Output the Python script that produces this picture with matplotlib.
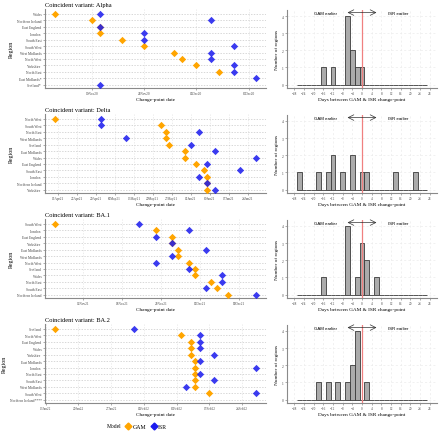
import numpy as np
import pandas as pd
import matplotlib
matplotlib.use("Agg")
import matplotlib.pyplot as plt
import matplotlib.dates as mdates
from matplotlib.lines import Line2D

plt.rcParams['font.family'] = 'Liberation Serif'

# change-point dates (None = no change-point found)
regions_alpha = ["Wales", "Northern Ireland", "East England", "London", "South East", "South West",
                 "West Midlands", "North West", "Yorkshire", "North East", "East Midlands*", "Scotland*"]
gam_alpha = ["2020-11-14", "2020-11-19", "2020-11-20", "2020-11-20", "2020-11-23", "2020-11-26",
             "2020-11-30", "2020-12-01", "2020-12-03", "2020-12-06", None, None]
isr_alpha = ["2020-11-20", "2020-12-05", "2020-11-20", "2020-11-26", "2020-11-26", "2020-12-08",
             "2020-12-05", "2020-12-05", "2020-12-08", "2020-12-08", "2020-12-11", "2020-11-20"]

regions_delta = ["North West", "South West", "North East", "West Midlands", "Scotland", "East Midlands",
                 "Wales", "East England", "South East", "London", "Northern Ireland", "Yorkshire"]
gam_delta = ["2021-04-14", "2021-05-23", "2021-05-25", "2021-05-25", "2021-05-26", "2021-06-01",
             "2021-06-01", "2021-06-05", "2021-06-08", "2021-06-09", "2021-06-09", "2021-06-09"]
isr_delta = ["2021-05-01", "2021-05-01", "2021-06-06", "2021-05-10", "2021-06-03", "2021-06-12",
             "2021-06-27", "2021-06-09", "2021-06-21", "2021-06-06", "2021-06-09", "2021-06-12"]

regions_ba1 = ["South West", "London", "East England", "Yorkshire", "East Midlands", "West Midlands",
               "North West", "Scotland", "Wales", "North East", "South East", "Northern Ireland"]
gam_ba1 = ["2021-11-06", "2021-11-24", "2021-11-27", "2021-11-27", "2021-11-28", "2021-11-28",
           "2021-11-30", "2021-12-01", "2021-12-01", "2021-12-04", "2021-12-05", "2021-12-07"]
isr_ba1 = ["2021-11-21", "2021-11-30", "2021-11-24", "2021-11-27", "2021-12-03", "2021-11-27",
           "2021-11-24", "2021-11-30", "2021-12-06", "2021-12-06", "2021-12-03", "2021-12-12"]

regions_ba2 = ["Scotland", "North West", "East England", "Wales", "Yorkshire", "East Midlands",
               "London", "North East", "South East", "West Midlands", "South West", "Northern Ireland****"]
gam_ba2 = ["2022-01-15", "2022-02-11", "2022-02-13", "2022-02-13", "2022-02-13", "2022-02-14",
           "2022-02-14", "2022-02-14", "2022-02-14", "2022-02-14", "2022-02-17", None]
isr_ba2 = ["2022-02-01", "2022-02-15", "2022-02-15", "2022-02-15", "2022-02-18", "2022-02-15",
           "2022-02-27", "2022-02-15", "2022-02-18", "2022-02-12", "2022-02-27", None]

panels = [("Alpha", regions_alpha, gam_alpha, isr_alpha),
          ("Delta", regions_delta, gam_delta, isr_delta),
          ("BA.1", regions_ba1, gam_ba1, isr_ba1),
          ("BA.2", regions_ba2, gam_ba2, isr_ba2)]

W, H = 440, 439
fig = plt.figure(figsize=(4.4, 4.39), dpi=100)


def box(x0, y0, x1, y1):
    return [x0 / W, 1 - y1 / H, (x1 - x0) / W, (y1 - y0) / H]


gam_col = '#FFA500'
isr_col = '#1a1aee'
axis_col = '#8a8a8a'
edges = np.arange(-27, 28, 2)
centers = edges[:-1] + 1


def style(ax, xsize, ysize):
    for side in ['top', 'right']:
        ax.spines[side].set_visible(False)
    for side in ['left', 'bottom']:
        ax.spines[side].set_color(axis_col)
        ax.spines[side].set_linewidth(0.8)
    ax.tick_params(length=1.5, width=0.5, pad=1, color=axis_col, labelcolor='#444444')
    ax.tick_params(axis='x', labelsize=xsize)
    ax.tick_params(axis='y', labelsize=ysize)


for i, (name, regions, gam, isr) in enumerate(panels):
    off = 105 * i
    g = pd.to_datetime(pd.Series(gam))
    s = pd.to_datetime(pd.Series(isr))
    y = np.arange(len(regions))

    # dot plot of change-point dates
    ax = fig.add_axes(box(45, 10 + off, 266, 89 + off))
    mg, ms = g.notna(), s.notna()
    ax.scatter(g[mg], y[mg], marker='D', s=14, color=gam_col, lw=0, zorder=3)
    ax.scatter(s[ms], y[ms], marker='D', s=14, color=isr_col, alpha=0.85, lw=0, zorder=4)
    ax.set_yticks(y, regions)
    ax.set_ylim(len(regions) - 0.5, -0.75)
    ax.xaxis.set_major_locator(mdates.WeekdayLocator(byweekday=mdates.TH))
    ax.xaxis.set_major_formatter(mdates.DateFormatter('%d%b%y'))
    ax.grid(axis='y', linestyle=(0, (2, 2)), color='#c8c8c8', lw=0.5)
    ax.grid(axis='x', linestyle=(0, (2, 2)), color='#e4e4e4', lw=0.5)
    ax.set_axisbelow(True)
    style(ax, 2.4, 2.6)
    ax.set_title(f"Coincident variant: {name}", loc='left', fontsize=4.6, pad=2)
    ax.set_xlabel("Change-point date", fontsize=3.8, labelpad=1)
    ax.set_ylabel("Region", fontsize=4.2, labelpad=2)

    # histogram of differences (right-closed bins, width 2 days)
    diffs = (g - s).dt.days.dropna()
    counts = pd.cut(diffs, edges, right=True).value_counts(sort=False).values
    hx = fig.add_axes(box(287, 11 + off, 437, 89 + off))
    hx.bar(centers, counts, width=2, color='#ababab', edgecolor='#3a3a3a', lw=0.6, zorder=2)
    hx.axvline(0, color='#f08080', lw=0.9, zorder=3)
    hx.set_xlim(-31, 31)
    hx.set_ylim(-0.2, 4.35)
    hx.set_xticks(np.arange(-28, 29, 4))
    hx.set_yticks(np.arange(0, 5))
    hx.grid(True, linestyle=(0, (3, 3)), color='#ececec', lw=0.5)
    hx.set_axisbelow(True)
    style(hx, 2.4, 2.6)
    hx.annotate('', xy=(-6, 4.2), xytext=(0, 4.2),
                arrowprops=dict(arrowstyle='->', lw=0.5, color='#333333', shrinkA=0, shrinkB=0))
    hx.annotate('', xy=(6, 4.2), xytext=(0, 4.2),
                arrowprops=dict(arrowstyle='->', lw=0.5, color='#333333', shrinkA=0, shrinkB=0))
    hx.text(-15, 4.2, "GAM earlier", ha='center', va='center', fontsize=3.2, family='Liberation Sans')
    hx.text(15, 4.2, "ISR earlier", ha='center', va='center', fontsize=3.2, family='Liberation Sans')
    hx.set_xlabel("Days between GAM & ISR change-point", fontsize=3.8, labelpad=1)
    hx.set_ylabel("Number of regions", fontsize=3.8, labelpad=2)

handles = [Line2D([], [], marker='D', color=gam_col, ls='', markersize=3.5),
           Line2D([], [], marker='D', color=isr_col, ls='', markersize=3.5)]
fig.text(107 / W, 1 - 427 / H, "Model", fontsize=4, va='center')
fig.legend(handles, ['GAM', 'ISR'], ncol=2, loc='center', bbox_to_anchor=(146 / W, 1 - 427 / H),
           frameon=False, fontsize=4.2, handletextpad=0.2, columnspacing=0.8, handlelength=1)

fig.savefig("out.png", dpi=100)
